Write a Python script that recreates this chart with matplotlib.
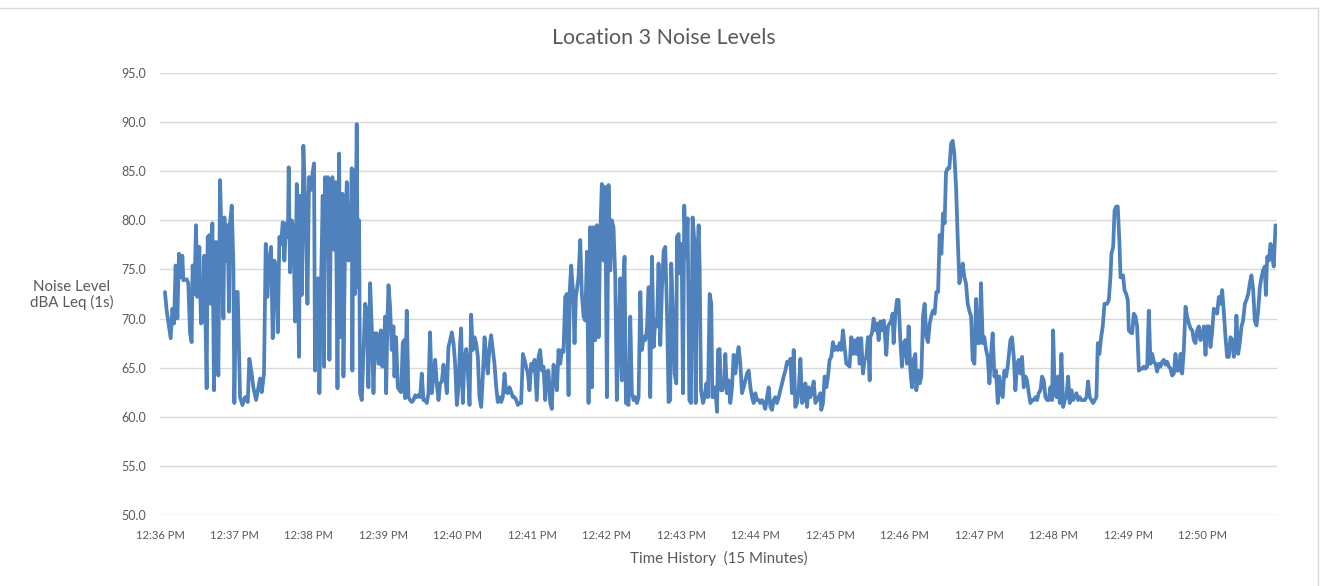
import matplotlib
matplotlib.use("Agg")
import matplotlib.pyplot as plt
from matplotlib.lines import Line2D

# ---- data: seconds after 12:36:00 PM and noise level (dBA Leq 1s) ----
t1 = [4.0,5.4,8.6,10.0,11.3,12.6,14.0,15.3,17.0,18.0,18.8,21.5,22.8,24.2,25.5,26.3,27.7,29.0,30.1,31.7,33.0,34.4,35.7,37.6,38.4,39.8,40.8,42.2,43.5,45.1,47.0,48.4,49.7,51.1,51.9,53.2,54.5,55.6,56.4,57.8,59.1,59.9,61.3,62.6,64.5,66.4,68.5,70.7,72.0]
v1 = [72.7,70.8,68.0,71.0,69.5,75.4,70.0,76.6,74.2,76.4,73.9,74.0,73.6,68.5,67.6,75.4,72.5,79.5,72.2,77.3,69.5,69.7,76.4,62.9,78.3,78.5,71.5,79.7,62.7,77.8,64.2,84.1,77.6,70.0,80.3,75.9,79.5,70.7,79.7,81.5,75.6,61.4,72.7,72.7,62.0,61.2,62.0,61.5,65.9]

t2 = [73.9,75.2,77.4,79.3,80.6,82.0,83.8,85.2,86.5,87.9,89.5,90.8,92.2,93.5,94.9,96.2,97.5,98.9,100.2,101.6,103.0,103.7,104.8,106.1,107.5,108.8,110.2,112.0,112.9,114.2,115.5,116.9,118.8,120.1,121.7,122.8,124.1,124.9,126.3,127.6,128.4,129.8,131.1,132.2,133.0,134.4,135.2,136.5,137.8,138.9,140.3,141.6,143.0,144.3,145.6,147.0,147.8]
v2 = [64.4,63.0,61.7,63.0,63.9,62.5,64.4,77.6,72.2,75.9,77.3,68.0,75.9,74.9,68.6,78.3,77.6,79.8,75.9,79.7,78.3,85.4,74.7,80.0,79.3,69.7,83.7,66.1,82.5,72.4,87.6,82.4,71.5,84.4,83.1,84.7,85.8,64.7,73.9,74.1,62.4,73.6,82.5,65.1,84.4,76.3,84.4,65.8,81.7,84.4,77.0,83.9,62.9,86.8,68.1,82.7,64.1]

t3 = [149.1,150.5,151.8,153.2,154.5,155.0,155.8,157.2,158.5,159.3,160.4,161.2,162.6,163.9,165.3,166.6,167.9,169.3,170.6,172.0,173.3,174.7,176.0,177.3,177.9,179.2,180.6,181.4,182.2,183.3,184.1,185.4,186.7,188.1,188.9,190.2,191.6,192.9,194.3,195.6,196.7,197.5,198.8,200.2,201.5,202.9,204.2,205.6,206.9,208.2,209.6,210.9,212.3,213.6,215.0,216.3,217.6,219.0,220.3,221.7,223.0,224.4,225.7,227.1,228.4]
v3 = [77.6,83.9,75.9,77.0,85.3,64.7,85.1,72.5,89.8,73.2,80.0,62.4,61.7,66.4,71.5,70.8,63.0,73.6,69.2,62.4,68.5,68.5,65.4,65.4,68.8,65.1,67.8,70.2,62.4,70.0,73.4,71.2,66.8,69.2,64.1,68.1,63.0,62.7,62.5,67.5,67.8,61.9,70.8,62.0,61.7,61.5,61.7,62.2,62.0,62.2,62.0,64.4,61.7,61.7,61.4,62.4,68.6,62.4,64.1,65.8,63.4,61.7,63.4,63.6,65.3]

t4 = [229.8,231.1,232.4,233.8,235.1,236.5,237.8,239.2,240.5,241.8,242.6,244.0,245.3,246.7,248.0,249.4,250.7,252.0,253.4,254.7,256.1,257.4,258.8,260.1,261.5,262.8,264.1,265.5,266.8,268.2,269.5,270.9,272.2,273.6,274.9,276.2,277.6,278.9,280.3,281.6,283.0,284.3,285.6,287.0,288.3,289.7,291.0,292.4,293.7,295.0,296.4,297.7,299.1,300.4,301.8]
v4 = [64.1,62.4,67.1,67.8,68.6,67.5,65.4,61.2,63.0,67.5,69.0,61.4,65.8,66.9,64.7,61.2,70.4,66.8,68.1,67.5,66.1,62.0,61.0,64.1,68.1,65.8,64.4,67.1,68.3,66.8,65.4,63.0,61.5,62.0,61.5,62.0,64.4,62.5,62.4,63.0,62.5,62.0,62.0,61.7,61.2,61.4,61.4,66.4,65.8,65.1,64.4,62.7,65.4,64.7,65.8]

t5 = [303.6,305.0,306.3,307.7,309.0,310.4,311.7,313.0,314.4,315.7,317.1,318.4,319.8,321.1,322.5,323.8,325.1,326.5,327.8,329.2,330.0,331.3,332.7,334.0,335.1,337.2,338.6,339.9,341.3,342.6,344.0,345.3,346.6,348.0,349.3,350.7,352.0,353.4,354.7,356.0,357.4,358.7,360.1,361.4,362.8,364.1,365.4,366.8,368.1,369.5,370.8,372.2,373.5,374.3,375.4,377.5]
v5 = [61.7,66.1,66.8,64.7,65.1,61.7,64.6,64.7,61.4,60.8,65.3,64.1,62.7,66.8,65.4,66.8,66.6,72.2,72.5,62.2,72.5,75.4,72.9,67.5,72.2,74.2,78.0,72.5,70.2,69.8,76.8,61.4,79.3,63.0,79.3,67.8,79.5,68.1,78.5,83.7,75.9,83.4,62.0,83.6,74.9,80.0,79.3,74.2,61.7,67.8,74.1,63.7,74.2,76.3,61.4,61.2]

t6 = [378.9,380.2,381.6,382.9,384.3,385.6,387.0,388.3,389.6,391.0,392.3,393.7,395.0,396.4,397.7,399.1,400.4,401.7,403.1,404.4,405.8,407.1,408.5,409.8,411.1,411.9,413.3,414.6,416.0,416.5,417.9,418.7,419.7,420.5,421.4,422.4,423.8,425.1,426.5,427.8,429.1,430.5,431.6,432.6,434.0,434.8,435.9,437.5,438.8,440.2,441.5,442.9,444.2,445.0,446.1,447.4,448.8,449.6,450.9,452.0,453.3,454.7]
v6 = [70.2,62.4,61.7,62.0,61.4,62.0,72.7,66.8,68.1,67.8,68.8,73.2,62.0,76.3,67.1,69.8,69.2,75.6,67.3,72.9,76.9,77.3,70.8,61.5,61.7,75.6,70.8,64.4,63.4,78.3,78.6,74.6,77.6,74.6,62.4,81.5,76.3,80.2,61.7,61.4,80.3,78.0,61.4,74.9,79.5,75.3,62.7,61.4,62.0,63.4,62.0,72.5,71.5,62.0,62.0,63.0,60.5,66.8,66.9,62.7,62.7,63.7]

t7 = [455.5,456.8,458.2,459.5,460.9,462.2,463.6,464.9,466.2,467.6,468.9,470.3,471.6,473.0,474.3,475.7,477.0,478.3,479.7,481.0,482.4,483.7,485.1,486.4,487.7,489.1,490.4,491.8,493.1,494.5,495.8,497.1,498.5,499.8,501.2,502.5,503.9,505.2,506.6,507.9,509.2,510.6,511.9,513.3,514.6,516.0,517.3,518.6,520.0,521.3,522.7,524.0,525.4,526.7,528.1,529.4,530.7]
v7 = [66.4,62.4,63.7,61.4,63.0,66.3,64.4,66.1,67.1,65.4,62.4,63.0,63.7,64.4,64.7,63.0,62.0,61.4,62.4,61.7,61.7,61.4,61.7,61.4,60.8,62.0,63.0,61.0,60.7,61.7,62.0,61.4,62.0,62.7,63.4,64.1,64.7,65.6,65.4,65.9,62.4,66.8,61.0,61.4,62.7,65.9,61.4,61.7,63.4,61.0,63.0,62.0,62.7,63.6,61.4,61.7,62.0]

t8 = [532.0,532.8,534.2,535.5,536.9,538.2,539.5,540.9,542.2,543.6,544.9,546.2,547.6,548.9,550.3,551.6,553.0,554.3,555.6,557.0,558.3,559.7,561.0,562.4,563.7,565.0,566.4,567.7,569.1,570.4,571.8,572.3,573.6,575.0,576.3,577.7,579.0,580.4,581.7,583.1,584.4,585.2,586.5,587.9,589.2,590.3,591.1,592.5,593.8,595.1,596.5,597.8,599.2,600.5,601.9,603.2,604.6,605.9,607.2]
v8 = [62.4,60.7,61.4,64.1,63.0,64.1,65.8,66.1,67.6,66.8,67.1,66.8,67.5,66.8,68.8,67.1,65.4,65.3,65.1,68.1,66.4,67.8,66.4,68.0,65.4,68.0,64.4,65.8,66.1,68.1,63.7,68.1,68.5,70.0,68.8,69.5,67.8,69.7,68.8,69.8,67.8,66.3,69.2,69.5,69.8,70.5,67.5,70.5,71.9,71.9,67.8,65.1,67.5,67.8,65.4,69.2,64.7,63.0,65.8]

t9 = [608.6,609.4,610.8,612.1,613.4,614.8,616.1,617.5,618.8,620.2,621.5,622.8,624.2,625.5,626.9,628.2,629.6,630.9,632.2,633.3,634.7,636.0,637.4,638.7,640.0,641.4,642.7,644.1,645.4,646.8,648.1,649.4,650.8,652.1,653.5,654.8,656.2,657.5,658.9,660.2,661.5,662.9,664.2,665.6,666.9,668.3,669.6,670.9,672.3,673.6,675.0,676.3,677.7,679.0,680.3,681.7,683.0,684.4]
v9 = [66.4,62.7,64.7,63.4,64.1,70.3,71.5,68.1,67.6,69.5,70.3,70.8,70.5,72.7,72.7,78.5,76.6,80.7,79.7,84.9,85.3,85.3,87.8,88.1,86.8,83.4,78.3,73.6,74.6,75.6,74.2,73.6,71.5,70.8,70.2,65.8,65.4,72.0,67.5,67.5,73.6,67.5,68.1,66.8,66.1,63.4,66.4,68.5,64.1,64.7,61.4,64.1,62.4,62.0,64.7,64.1,65.1,66.8]

t10 = [685.2,686.5,687.9,689.2,690.6,691.9,693.3,694.6,695.9,697.3,698.6,700.0,701.3,702.7,704.0,705.4,706.7,708.0,709.4,710.7,712.1,713.4,714.8,716.1,717.4,718.8,719.6,720.9,722.3,723.6,725.0,726.3,727.7,729.0,730.3,731.7,733.0,734.4,735.7,737.1,738.4,739.7,741.1,742.4,743.8,745.1,746.5,747.8,749.1,750.5,751.8,753.2,754.5,755.6,756.9,758.3,759.6,761.0]
v10 = [67.8,68.1,66.1,62.7,65.4,65.8,64.4,66.1,63.0,64.1,63.7,62.4,61.4,61.7,61.7,62.0,61.7,62.4,62.7,64.1,63.7,62.0,61.7,61.7,63.0,61.7,68.8,62.7,62.0,64.1,61.4,66.4,61.0,61.7,62.0,64.1,61.4,62.7,61.7,62.0,62.4,61.7,62.0,61.7,61.7,61.7,62.0,63.6,62.0,61.7,61.4,61.7,62.0,67.5,66.4,68.1,69.2,71.5]

t11 = [763.1,764.5,765.8,766.6,768.0,769.1,770.4,771.7,773.1,773.9,775.2,776.0,777.1,778.5,779.8,780.6,781.9,783.3,784.6,786.0,787.3,788.7,790.0,791.4,792.7,794.0,795.4,796.7,798.1,799.4,800.8,802.1,803.4,804.8,806.1,807.5,808.8,810.2,811.5,812.9,814.2,815.5,816.9,818.2,819.6,820.9,822.3,823.6,824.9,826.3,827.6,829.0,830.3,831.7,833.0]
v11 = [71.5,71.9,74.2,76.6,77.3,81.0,81.4,81.4,77.6,74.2,74.2,74.4,72.9,72.5,71.9,68.8,68.6,68.5,70.5,70.2,69.2,64.7,64.9,64.9,65.1,64.9,65.1,70.8,65.4,66.4,65.6,65.4,64.6,65.4,65.1,65.6,65.8,65.3,65.6,65.1,64.9,64.2,64.4,66.4,64.7,64.7,66.4,64.4,66.8,71.2,70.2,69.5,69.0,68.8,67.8]

t12 = [834.3,835.7,837.0,838.3,839.7,841.0,842.4,843.7,845.1,846.4,847.7,849.1,850.4,851.8,853.1,854.5,855.8,857.1,858.5,859.8,861.2,862.5,863.9,865.2,866.5,867.3,868.7,870.0,871.4,872.7,874.1,875.4,876.8,878.1,879.4,880.8,882.1,883.5,884.8,886.2,887.5,888.8,890.2,891.0,892.1,893.4,894.8,896.1,897.4,898.8]
v12 = [67.5,68.8,69.2,67.8,68.1,69.2,66.3,69.2,69.2,67.1,68.6,71.0,70.8,70.5,72.2,71.5,72.9,70.8,68.1,66.1,66.1,68.1,67.8,66.1,67.5,70.3,66.4,67.5,69.2,69.8,71.5,71.9,72.5,73.6,74.4,72.9,69.8,69.3,70.8,73.2,74.2,74.9,75.3,72.4,76.3,75.9,77.6,76.3,75.3,79.5]

tick_seconds = [0, 60, 120, 180, 240, 300, 360, 420, 480, 540, 600, 660, 720, 780, 840]
tick_labels = ["12:36 PM", "12:37 PM", "12:38 PM", "12:39 PM", "12:40 PM", "12:41 PM",
               "12:42 PM", "12:43 PM", "12:44 PM", "12:45 PM", "12:46 PM", "12:47 PM",
               "12:48 PM", "12:49 PM", "12:50 PM"]
y_ticks = [50, 55, 60, 65, 70, 75, 80, 85, 90, 95]

title = "Location 3 Noise Levels"
x_title = "Time History  (15 Minutes)"
y_title = "Noise Level\ndBA Leq (1s)"

# ---- assemble ----
times = t1 + t2 + t3 + t4 + t5 + t6 + t7 + t8 + t9 + t10 + t11 + t12
levels = v1 + v2 + v3 + v4 + v5 + v6 + v7 + v8 + v9 + v10 + v11 + v12

plt.rcParams['font.family'] = ['Lato', 'DejaVu Sans']
text_color = "#595959"
grid_color = "#d9d9d9"
line_color = "#4f81bd"

W, H = 1321, 586
fig = plt.figure(figsize=(W / 100, H / 100), dpi=100)
ax = fig.add_axes([160 / W, 1 - 515 / H, (1277 - 160) / W, (515 - 73) / H])

ax.plot(times, levels, color=line_color, linewidth=2.7, solid_joinstyle="round",
        solid_capstyle="round", zorder=3)

ax.set_xlim(0, 900)
ax.set_ylim(50, 95)
ax.set_yticks(y_ticks)
ax.set_yticklabels([f"{v:.1f}" for v in y_ticks])
ax.set_xticks(tick_seconds)
ax.set_xticklabels(tick_labels)
ax.tick_params(axis="x", length=0, labelsize=8.1, colors=text_color, pad=11)
ax.tick_params(axis="y", length=0, labelsize=9, colors=text_color, pad=10)
ax.grid(axis="y", color=grid_color, linewidth=1.0, zorder=0)
ax.grid(axis="x", visible=False)
for s in ax.spines.values():
    s.set_visible(False)

ax.set_xlabel(x_title, fontsize=10.9, color=text_color, labelpad=7)
fig.text(72 / W, 1 - 295 / H, y_title, ha="center", va="center",
         fontsize=10.9, color=text_color, linespacing=1.15)
fig.text(664 / W, 1 - 38 / H, title, ha="center", va="center",
         fontsize=15.4, color=text_color)

# chart area border
fig.add_artist(Line2D([0, 1318 / W], [1 - 8 / H, 1 - 8 / H], transform=fig.transFigure,
                      color=grid_color, linewidth=1))
fig.add_artist(Line2D([1318 / W, 1318 / W], [1 - 8 / H, 0], transform=fig.transFigure,
                      color=grid_color, linewidth=1))

fig.savefig("out.png", dpi=100)
